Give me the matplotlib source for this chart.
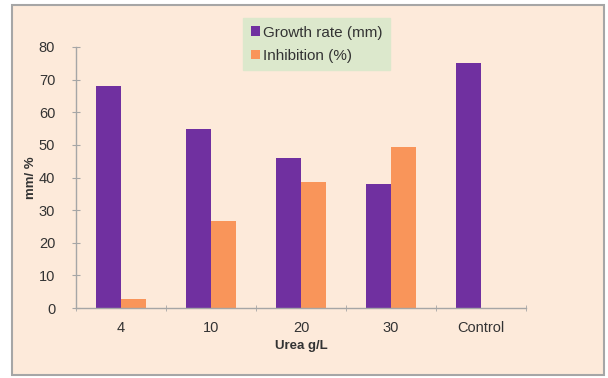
import matplotlib
matplotlib.use("Agg")
import matplotlib.pyplot as plt
from matplotlib.patches import Rectangle
import numpy as np

plt.rcParams['font.family'] = ['Liberation Sans', 'DejaVu Sans']

categories = ["4", "10", "20", "30", "Control"]
growth_rate = [68, 55, 46, 38, 75]
inhibition = [2.7, 26.7, 38.7, 49.3, 0]
yticks = [0, 10, 20, 30, 40, 50, 60, 70, 80]

bg = "#FDEADA"
purple = "#7030A0"
orange = "#F9955A"
text_col = "#333333"

fig = plt.figure(figsize=(6.08, 3.78), dpi=100)
fig.patch.set_facecolor("white")
fig.patches.append(Rectangle((12 / 608, 3 / 378), 592 / 608, 370 / 378,
                             transform=fig.transFigure, facecolor=bg,
                             edgecolor="#A6A6A6", linewidth=1.5, zorder=-10))

ax = fig.add_axes([76 / 608, 1 - 308 / 378, 450 / 608, 261 / 378])
ax.set_facecolor(bg)

x = np.arange(len(categories))
w = 0.28
ax.bar(x - w / 2, growth_rate, w, color=purple, label="Growth rate (mm)", zorder=2)
ax.bar(x[:4] + w / 2, inhibition[:4], w, color=orange, label="Inhibition (%)", zorder=2)

ax.set_xlim(-0.5, len(categories) - 0.5)
ax.set_ylim(0, 80)
ax.set_yticks(yticks)
ax.set_xticks(x)
ax.set_xticklabels(categories)
ax.set_xticks(np.arange(-0.5, len(categories) + 0.5, 1), minor=True)
ax.tick_params(axis="x", which="major", length=0, pad=9, labelsize=10.5, labelcolor=text_col)
ax.tick_params(axis="x", which="minor", length=5, color="#A6A6A6", direction="inout")
ax.tick_params(axis="y", length=6, color="#A6A6A6", direction="inout", pad=12,
               labelsize=10.5, labelcolor=text_col)

for s in ["top", "right"]:
    ax.spines[s].set_visible(False)
for s in ["left", "bottom"]:
    ax.spines[s].set_color("#A6A6A6")
    ax.spines[s].set_linewidth(1.0)

ax.set_xlabel("Urea g/L", fontsize=9.5, fontweight="bold", color=text_col, labelpad=4)
ax.set_ylabel("mm/ %", fontsize=9.5, fontweight="bold", color=text_col, labelpad=1)

leg = fig.legend(loc="upper left", bbox_to_anchor=(243 / 608, 1 - 18 / 378),
                 frameon=True, fancybox=False, fontsize=11, handlelength=0.6,
                 handleheight=0.6, handletextpad=0.2, borderpad=0.5, labelspacing=0.6,
                 labelcolor=text_col, borderaxespad=0)
leg.get_frame().set_facecolor("#DCE8CC")
leg.get_frame().set_edgecolor("#DCE8CC")
leg.get_frame().set_alpha(1)

fig.savefig("out.png", dpi=100, facecolor=fig.get_facecolor())
